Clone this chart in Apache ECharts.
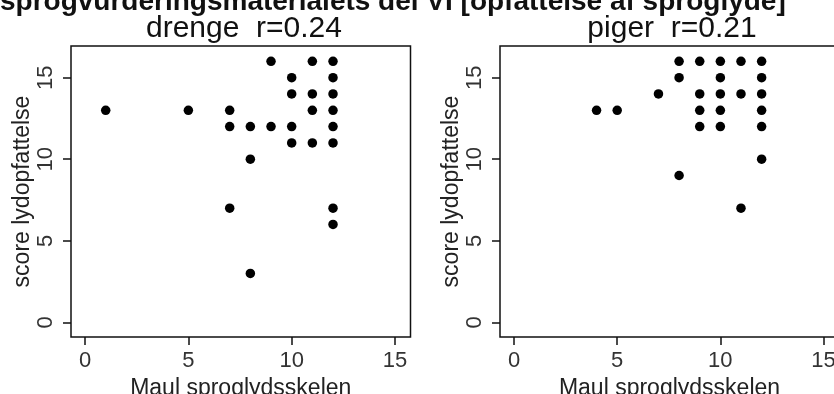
<!DOCTYPE html>
<html>
<head>
<meta charset="utf-8">
<script src="https://cdn.jsdelivr.net/npm/echarts@6/dist/echarts.min.js"></script>
<style>
  html, body { margin: 0; padding: 0; background: #fff; }
  #chart { width: 834px; height: 394px; }
</style>
</head>
<body>
<div id="chart"></div>
<script>
// data
var boysX  = [1, 5, 7, 7, 7, 8, 8, 8, 9, 9, 10, 10, 10, 10, 11, 11, 11, 11, 12, 12, 12, 12, 12, 12, 12, 12];
var boysY  = [13, 13, 13, 12, 7, 12, 10, 3, 16, 12, 15, 14, 12, 11, 16, 14, 13, 11, 16, 15, 14, 13, 12, 11, 7, 6];
var girlsX = [4, 5, 7, 8, 8, 8, 9, 9, 9, 9, 10, 10, 10, 10, 10, 11, 11, 11, 12, 12, 12, 12, 12, 12];
var girlsY = [13, 13, 14, 16, 15, 9, 16, 14, 13, 12, 16, 15, 14, 13, 12, 16, 14, 7, 16, 15, 14, 13, 12, 10];
var xTicks = [0, 5, 10, 15];
var yTicks = [0, 5, 10, 15];
var panelTitles = ['drenge  r=0.24', 'piger  r=0.21'];
var mainTitle = 'sprogvurderingsmaterialets del VI [opfattelse af sproglyde]';
var xName = 'Maul sproglydsskelen';
var yName = 'score lydopfattelse';

var FONT = "'Liberation Sans', Arial, sans-serif";

function pairs(xs, ys) {
  var out = [];
  for (var i = 0; i < xs.length; i++) out.push([xs[i], ys[i]]);
  return out;
}

function xAxisFor(idx) {
  return {
    type: 'value', gridIndex: idx, min: -0.68, max: 15.75,
    name: xName, nameLocation: 'middle', nameGap: 30,
    nameTextStyle: { fontFamily: FONT, fontSize: 23, color: '#222' },
    axisLine: { show: false, onZero: false },
    axisTick: { show: true, length: 8, customValues: xTicks, lineStyle: { color: '#111', width: 1.5 } },
    axisLabel: { customValues: xTicks, margin: 13, fontFamily: FONT, fontSize: 22, color: '#333' },
    splitLine: { show: false }
  };
}

function yAxisFor(idx) {
  return {
    type: 'value', gridIndex: idx, min: -0.9, max: 16.94,
    name: yName, nameLocation: 'middle', nameGap: 32,
    nameTextStyle: { fontFamily: FONT, fontSize: 23, color: '#222' },
    axisLine: { show: false, onZero: false },
    axisTick: { show: true, length: 8, customValues: yTicks, lineStyle: { color: '#111', width: 1.5 } },
    axisLabel: { customValues: yTicks, rotate: 90, margin: 14, fontFamily: FONT, fontSize: 22, color: '#333' },
    splitLine: { show: false }
  };
}

var chart = echarts.init(document.getElementById('chart'));
chart.setOption({
  backgroundColor: '#fff',
  animation: false,
  title: [{
    text: panelTitles[0], left: 239, top: 9, textAlign: 'center',
    textStyle: { fontFamily: FONT, fontSize: 30, fontWeight: 'normal', color: '#111' }
  }, {
    text: panelTitles[1], left: 667, top: 9, textAlign: 'center',
    textStyle: { fontFamily: FONT, fontSize: 30, fontWeight: 'normal', color: '#111' }
  }],
  graphic: [{
    type: 'text', x: 0, y: 2,
    style: { text: mainTitle, font: 'bold 28px ' + FONT, fill: '#111', textAlign: 'left', textVerticalAlign: 'middle' }
  }],
  grid: [
    { left: 71, top: 46, width: 339.5, height: 291, outerBoundsMode: 'none', show: true, borderColor: '#111', borderWidth: 1.5 },
    { left: 500, top: 46, width: 339, height: 291, outerBoundsMode: 'none', show: true, borderColor: '#111', borderWidth: 1.5 }
  ],
  xAxis: [xAxisFor(0), xAxisFor(1)],
  yAxis: [yAxisFor(0), yAxisFor(1)],
  series: [{
    name: 'drenge', type: 'scatter', xAxisIndex: 0, yAxisIndex: 0,
    data: pairs(boysX, boysY), symbol: 'circle', symbolSize: 9.5,
    itemStyle: { color: '#000', opacity: 1 }
  }, {
    name: 'piger', type: 'scatter', xAxisIndex: 1, yAxisIndex: 1,
    data: pairs(girlsX, girlsY), symbol: 'circle', symbolSize: 9.5,
    itemStyle: { color: '#000', opacity: 1 }
  }]
});
</script>
</body>
</html>
